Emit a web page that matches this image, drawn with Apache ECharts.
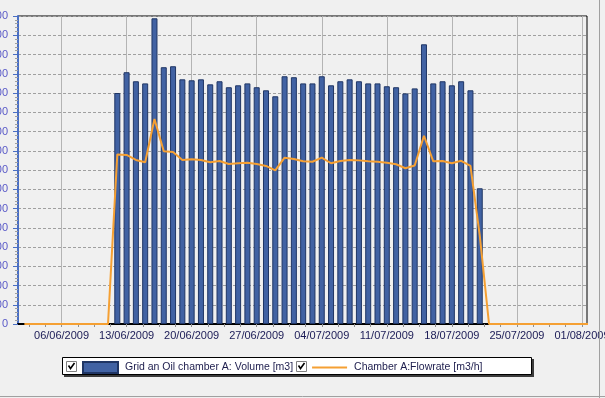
<!DOCTYPE html>
<html>
<head>
<meta charset="utf-8">
<script src="https://cdn.jsdelivr.net/npm/echarts@6/dist/echarts.min.js"></script>
<style>
  html, body { margin: 0; padding: 0; background: #f0f0f0; }
  #chart { width: 605px; height: 398px; }
</style>
</head>
<body>
<div id="chart"></div>
<script>
// daily volume, 12/06/2009 .. 21/07/2009
const volumeStart = '2009-06-12';
const volumeValues = [
  1200, 1308, 1261, 1250, 1588, 1334, 1339, 1271, 1266, 1271,
  1245, 1261, 1230, 1240, 1250, 1230, 1214, 1183, 1287, 1282,
  1250, 1250, 1287, 1240, 1261, 1271, 1261, 1250, 1250, 1235,
  1230, 1198, 1224, 1453, 1250, 1261, 1240, 1261, 1214, 705
];
// daily flowrate, 02/06/2009 .. 02/08/2009
const flowStart = '2009-06-02';
const flowValues = [
  0, 0, 0, 0, 0, 0, 0, 0, 0, 0,
  881, 878, 852, 840, 1065, 897, 894, 852, 856, 852,
  840, 847, 831, 835, 838, 831, 821, 798, 864, 857,
  845, 843, 864, 835, 847, 852, 850, 845, 843, 838,
  830, 809, 823, 978, 845, 847, 835, 848, 821, 460,
  0, 0, 0, 0, 0, 0, 0, 0, 0, 0, 0, 0
];
const weekLabels = [
  '2009-06-06', '2009-06-13', '2009-06-20', '2009-06-27', '2009-07-04',
  '2009-07-11', '2009-07-18', '2009-07-25', '2009-08-01'
];
const volumeName = 'Grid an Oil chamber A: Volume [m3]';
const flowName = 'Chamber A:Flowrate [m3/h]';

const DAY = 86400000;
const toMs = (s) => Date.parse(s + 'T00:00:00Z');
const xMin = Date.parse('2009-06-01T07:34:00Z');
const xMax = Date.parse('2009-08-01T13:00:00Z');

const daily = (start, values) => values.map((v, i) => [toMs(start) + i * DAY, v]);
const weekTicks = weekLabels.map(toMs);
// small ticks every quarter week
const smallTicks = [];
for (let t = toMs('2009-06-06') - 2 * 1.75 * DAY; t <= xMax; t += 1.75 * DAY) smallTicks.push(t);

const pad = (n) => (n < 10 ? '0' + n : '' + n);
const fmtDate = (v) => {
  const d = new Date(v);
  return pad(d.getUTCDate()) + '/' + pad(d.getUTCMonth() + 1) + '/' + d.getUTCFullYear();
};

const font = 'Liberation Sans, Arial, sans-serif';
const chart = echarts.init(document.getElementById('chart'));
chart.setOption({
  animation: false,
  backgroundColor: '#f0f0f0',
  textStyle: { fontFamily: font },
  grid: {
    left: 18, right: 18, top: 16, bottom: 74,
    outerBoundsMode: 'none', containLabel: false,
    show: true, backgroundColor: '#f0f0f0', borderColor: '#000', borderWidth: 1
  },
  legend: {
    data: [
      { name: volumeName, icon: 'rect' },
      { name: flowName, itemStyle: { opacity: 0 } }
    ],
    left: 82, top: 361, padding: 0,
    itemWidth: 35, itemHeight: 11, itemGap: 18,
    selectedMode: false,
    textStyle: { fontSize: 10.5, color: '#1c1c4c', padding: [0, 0, 0, 2], fontFamily: font }
  },
  xAxis: {
    type: 'value', min: xMin, max: xMax,
    axisLine: { lineStyle: { color: '#000', width: 2 } },
    axisTick: { show: true, customValues: smallTicks, length: 3, lineStyle: { color: '#909090' } },
    axisLabel: {
      customValues: weekTicks, formatter: fmtDate,
      color: '#1a1a55', fontSize: 11, margin: 6
    },
    splitLine: { show: false }
  },
  yAxis: {
    type: 'value', min: 0, max: 1600, interval: 100,
    axisLine: { show: true, lineStyle: { color: '#4a6fc4', width: 2 } },
    axisTick: { show: true, length: 5, lineStyle: { color: '#4a6fc4' } },
    minorTick: { show: true, splitNumber: 5, length: 3, lineStyle: { color: '#a0a0a0' } },
    axisLabel: { color: '#5a5ac8', fontSize: 11, margin: 10, formatter: (v) => String(v) },
    splitLine: { lineStyle: { color: '#a0a0a0', type: [3, 2] } }
  },
  series: [
    {
      name: volumeName, type: 'bar',
      data: daily(volumeStart, volumeValues),
      barWidth: 6,
      itemStyle: { color: '#4162a3', borderColor: '#1f3564', borderWidth: 1 },
      markLine: {
        silent: true, z: 1, symbol: 'none',
        label: { show: false },
        lineStyle: { color: '#b4b4b4', type: 'solid', width: 1 },
        data: weekTicks.map((t) => ({ xAxis: t }))
      }
    },
    {
      name: flowName, type: 'line',
      data: daily(flowStart, flowValues),
      symbol: 'none', z: 3,
      lineStyle: { color: '#f5a033', width: 2 },
      itemStyle: { color: '#f5a033' }
    }
  ],
  graphic: [
    { type: 'rect', z: 1, shape: { x: 64, y: 359, width: 470, height: 18 }, style: { fill: '#3c3c3c' } },
    { type: 'rect', z: 1, shape: { x: 62.5, y: 357.5, width: 469, height: 17 }, style: { fill: '#fff', stroke: '#000', lineWidth: 1 } },
    { type: 'rect', z: 1, shape: { x: 66.5, y: 361.5, width: 10, height: 10 }, style: { fill: '#fff', stroke: '#808080', lineWidth: 1 } },
    { type: 'polyline', z: 1, shape: { points: [[68.5, 365.5], [70.5, 368.5], [74.5, 363]] }, style: { stroke: '#000', lineWidth: 1.6, fill: null } },
    { type: 'rect', z: 1, shape: { x: 296.5, y: 361.5, width: 10, height: 10 }, style: { fill: '#fff', stroke: '#808080', lineWidth: 1 } },
    { type: 'polyline', z: 1, shape: { points: [[298.5, 365.5], [300.5, 368.5], [304.5, 363]] }, style: { stroke: '#000', lineWidth: 1.6, fill: null } },
    { type: 'line', z: 1, shape: { x1: 599.5, y1: 0, x2: 599.5, y2: 398 }, style: { stroke: '#a0a0a0', lineWidth: 1 } },
    { type: 'line', z: 1, shape: { x1: 0, y1: 396.5, x2: 605, y2: 396.5 }, style: { stroke: '#a0a0a0', lineWidth: 1 } }
  ]
});
</script>
</body>
</html>
